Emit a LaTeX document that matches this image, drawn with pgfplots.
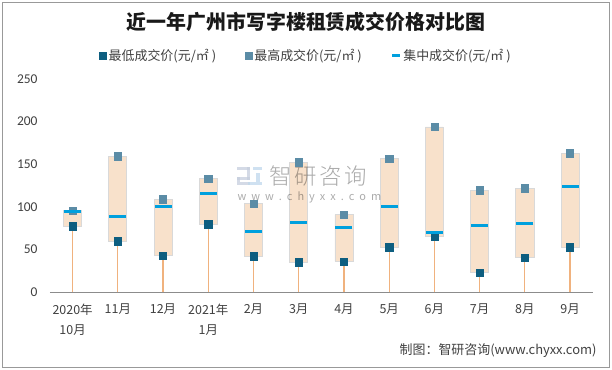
\documentclass[border=0pt]{standalone}
\usepackage{pgfplots}
\pgfplotsset{compat=1.18}
\usepackage{pgfplotstable}
\usepackage{fontspec}
\setmainfont{Noto Sans CJK SC}
\newfontfamily\carlito{Carlito}
\newfontfamily\wmfont[LetterSpace=12]{Noto Sans CJK SC Light}
\definecolor{minc}{HTML}{0E5E80}
\definecolor{maxc}{HTML}{5B8CA6}
\definecolor{midc}{HTML}{00A0DE}
\definecolor{boxc}{HTML}{F8E1CB}
\definecolor{boxd}{HTML}{D9D9D9}
\definecolor{whisc}{HTML}{F0B27E}
\definecolor{txt}{HTML}{404040}
\definecolor{logoa}{HTML}{C5CEDD}
\definecolor{logob}{HTML}{BFD7EC}

\pgfplotstableread{
x min max mid
0 77.4 96.1 95
1 59.8 159.4 89
2 43 109 100.8
3 79.7 133.6 116
4 42.2 104.3 71.5
5 35.2 152.4 82
6 36.3 91.4 76.2
7 52.8 157 100.8
8 65.2 193.8 70.3
9 23.4 119.6 78.5
10 41 121.9 80.9
11 52.8 163 124.2
}\data

\pgfplotsset{base/.style={
  at={(50bp,77.7bp)}, anchor=south west, scale only axis,
  width=542.7bp, height=213.3bp,
  xmin=-0.5, xmax=11.5, ymin=0, ymax=250,
}}

\begin{document}
\begin{tikzpicture}
\path (0,0) rectangle (612bp,370bp);
\draw[black!40, line width=0.8bp] (2.5bp,2.5bp) rectangle (609.5bp,367.5bp);
\begin{axis}[base, hide axis, ybar stacked, bar width=0.4]
\addplot[draw=none, fill=none] table[x=x, y=min]{\data};
\addplot[fill=boxc, draw=boxd, line width=0.8bp] table[x=x, y expr=\thisrow{max}-\thisrow{min}]{\data};
\end{axis}
% watermark
\begin{scope}[opacity=0.75]
\fill[logoa] (237bp,200bp) rectangle (250bp,203bp);
\fill[logoa] (247bp,190bp) rectangle (250bp,203bp);
\fill[logoa] (237bp,190bp) rectangle (250bp,193bp);
\fill[logoa] (237bp,188bp) rectangle (240bp,193bp);
\fill[logoa] (237bp,185bp) rectangle (250bp,188bp);
\fill[logob] (253bp,200bp) rectangle (262bp,203bp);
\fill[logob] (256bp,188bp) rectangle (260bp,197bp);
\fill[logob] (248bp,185bp) rectangle (262bp,188bp);
\end{scope}
\node[text=black, opacity=0.33, font=\wmfont\fontsize{22.5}{22.5}\selectfont, anchor=west] at (266bp,194bp) {智研咨询};
\node[text=black, opacity=0.33, font=\fontsize{11}{11}\selectfont, anchor=west] at (234bp,173bp) {w\hspace{5bp}w\hspace{5bp}w\hspace{5bp}.\hspace{5bp}c\hspace{5bp}h\hspace{5bp}y\hspace{5bp}x\hspace{5bp}x\hspace{5bp}.\hspace{5bp}c\hspace{5bp}o\hspace{5bp}m};
\begin{axis}[base,
  axis lines*=left,
  y axis line style={draw=none},
  x axis line style={color=black!45, line width=0.9bp},
  ytick={0,50,...,250},
  xtick={0,...,11},
  xticklabels={{2020年\\10月},11月,12月,{2021年\\1月},2月,3月,4月,5月,6月,7月,8月,9月},
  major tick length=0pt,
  /pgf/number format/assume math mode=true,
  yticklabel style={font=\carlito\fontsize{13.5}{13.5}\selectfont, text=txt, xshift=-9bp},
  xticklabel style={font=\fontsize{12.5}{20}\selectfont, text=txt, align=center, yshift=-8bp},
  legend columns=3,
  legend style={draw=none, fill=none, at={(0.472,1.11)}, anchor=center,
    font=\fontsize{13}{14}\selectfont, text=txt,
    /tikz/every odd column/.append style={column sep=0bp},
    /tikz/every even column/.append style={column sep=27bp}},
]
\addplot[ycomb, whisc, line width=1.2bp, mark=none, forget plot] table[x=x, y=min]{\data};
\addplot[only marks, mark=square*, mark size=3.6bp, mark options={fill=minc, draw=minc}] table[x=x, y=min]{\data};
\addlegendentry{最低成交价(元/㎡\hspace{3bp})}
\addplot[only marks, mark=square*, mark size=3.6bp, mark options={fill=maxc, draw=maxc}] table[x=x, y=max]{\data};
\addlegendentry{最高成交价(元/㎡\hspace{3bp})}
\addplot[only marks, mark=-, mark size=8.5bp, mark options={draw=midc, line width=2.8bp},
  legend image code/.code={\draw[midc, line width=2.5bp] (0bp,0bp) -- (8bp,0bp);}] table[x=x, y=mid]{\data};
\addlegendentry{集中成交价(元/㎡\hspace{3bp})}
\end{axis}
\node[font=\bfseries\fontsize{20}{20}\selectfont, text=black!90] at (306bp,348bp) {近一年广州市写字楼租赁成交价格对比图};
\node[anchor=east, font=\fontsize{13}{13}\selectfont, text=txt] at (600bp,19bp) {制图：智研咨询(www.chyxx.com)};
\end{tikzpicture}
\end{document}
